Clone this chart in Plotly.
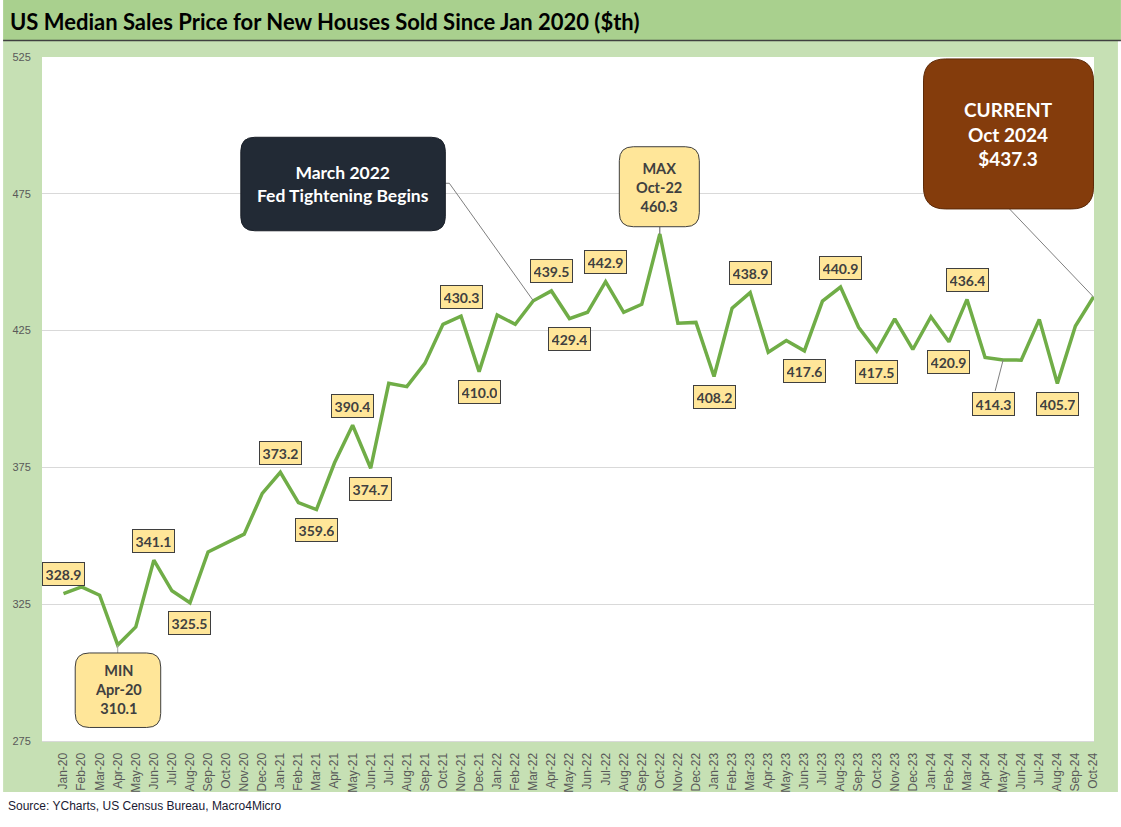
import plotly.graph_objects as go

months = [
    "Jan-20", "Feb-20", "Mar-20", "Apr-20", "May-20", "Jun-20", "Jul-20", "Aug-20", "Sep-20", "Oct-20", "Nov-20", "Dec-20",
    "Jan-21", "Feb-21", "Mar-21", "Apr-21", "May-21", "Jun-21", "Jul-21", "Aug-21", "Sep-21", "Oct-21", "Nov-21", "Dec-21",
    "Jan-22", "Feb-22", "Mar-22", "Apr-22", "May-22", "Jun-22", "Jul-22", "Aug-22", "Sep-22", "Oct-22", "Nov-22", "Dec-22",
    "Jan-23", "Feb-23", "Mar-23", "Apr-23", "May-23", "Jun-23", "Jul-23", "Aug-23", "Sep-23", "Oct-23", "Nov-23", "Dec-23",
    "Jan-24", "Feb-24", "Mar-24", "Apr-24", "May-24", "Jun-24", "Jul-24", "Aug-24", "Sep-24", "Oct-24",
]
prices = [
    328.9, 331.3, 328.3, 310.1, 316.7, 341.1, 329.9, 325.5, 344.1, 347.2, 350.6, 365.5,
    373.2, 362.1, 359.6, 376.7, 390.4, 374.7, 405.7, 404.5, 413.0, 427.3, 430.3, 410.0,
    430.7, 427.3, 435.9, 439.5, 429.4, 431.7, 442.9, 431.7, 434.6, 460.3, 427.7, 428.0,
    408.2, 433.2, 438.9, 417.1, 421.4, 417.6, 435.8, 440.9, 426.2, 417.5, 429.3, 418.1,
    430.1, 420.9, 436.4, 415.2, 414.3, 414.2, 429.1, 405.7, 426.7, 437.3,
]
labels_above = ["Jan-20", "Jun-20", "Jan-21", "May-21", "Nov-21", "Apr-22", "Jul-22", "Mar-23", "Aug-23", "Mar-24"]
labels_below = ["Aug-20", "Mar-21", "Jun-21", "Dec-21", "May-22", "Jan-23", "Jun-23", "Oct-23", "Feb-24", "Aug-24"]
label_leader = ["May-24"]
y_ticks = [275, 325, 375, 425, 475, 525]

TITLE = "US Median Sales Price for New Houses Sold Since Jan 2020 ($th)"
SOURCE = "Source: YCharts, US Census Bureau, Macro4Micro"

# colours
LINE_GREEN = "#70AD47"
BAR_GREEN = "#A9D08E"
AREA_GREEN = "#C6E0B4"
LABEL_FILL = "#FFE699"
LABEL_TEXT = "#404040"
DARK_BOX = "#222A35"
BROWN_BOX = "#843C0C"

W, H = 1121, 827
L, R, T, B = 39, 27, 57, 86
PW, PH = W - L - R, H - T - B


def px2x(px):
    return (px - L) / PW


def py2y(py):
    return (H - B - py) / PH


val = dict(zip(months, prices))

fig = go.Figure()
fig.add_trace(go.Scatter(
    x=months, y=prices, mode="lines",
    line=dict(color=LINE_GREEN, width=3.5),
    hoverinfo="x+y", showlegend=False,
))

shapes = []
# background panels (whole figure, in paper coords)
shapes.append(dict(type="rect", xref="paper", yref="paper", layer="below",
                   x0=px2x(0), x1=px2x(1118), y0=py2y(792), y1=py2y(41),
                   fillcolor=AREA_GREEN, line=dict(width=0)))
shapes.append(dict(type="rect", xref="paper", yref="paper", layer="below",
                   x0=px2x(0), x1=px2x(W), y0=py2y(41), y1=py2y(0),
                   fillcolor=BAR_GREEN, line=dict(width=0)))
shapes.append(dict(type="line", xref="paper", yref="paper", layer="below",
                   x0=px2x(0), x1=px2x(W), y0=py2y(40.5), y1=py2y(40.5),
                   line=dict(color="#404040", width=1.5)))
shapes.append(dict(type="rect", xref="paper", yref="paper", layer="below",
                   x0=0, x1=1, y0=0, y1=1,
                   fillcolor="white", line=dict(width=0)))


def rrect(x0, y0, x1, y1, r):
    return (f"M {x0 + r},{y0} L {x1 - r},{y0} Q {x1},{y0} {x1},{y0 + r} "
            f"L {x1},{y1 - r} Q {x1},{y1} {x1 - r},{y1} L {x0 + r},{y1} "
            f"Q {x0},{y1} {x0},{y1 - r} L {x0},{y0 + r} Q {x0},{y0} {x0 + r},{y0} Z")


def pix_shape(month, path, fill=None, line_color="#404040", width=1):
    d = dict(type="path", xref="x", yref="y", xsizemode="pixel", ysizemode="pixel",
             xanchor=month, yanchor=val[month], path=path,
             line=dict(color=line_color, width=width))
    if fill:
        d["fillcolor"] = fill
    return d


# leaders
i_min = prices.index(min(prices))
i_max = prices.index(max(prices))
m_min, m_max = months[i_min], months[i_max]
m_fed = "Mar-22"
m_cur = months[-1]

shapes.append(pix_shape(m_min, "M 0,0 L 0,-8", line_color="#A6A6A6"))
shapes.append(pix_shape(m_max, "M 0,0 L 0,7", line_color="#595959"))
shapes.append(pix_shape(m_fed, "M 0,0 L -84,117.5 L -88,117.5", line_color="#7F7F7F"))
shapes.append(pix_shape(m_cur, "M 0,0 L -84,88", line_color="#7F7F7F"))
shapes.append(pix_shape("May-24", "M 0,0 L -8,-31", line_color="#7F7F7F"))

# boxes
shapes.append(pix_shape(m_min, rrect(-42.5, -82.5, 43, -8, 14), fill=LABEL_FILL, line_color="#3F3F3F"))
shapes.append(pix_shape(m_max, rrect(-40.5, 7.3, 39.5, 87.3, 14), fill=LABEL_FILL, line_color="#3F3F3F"))
shapes.append(pix_shape(m_fed, rrect(-292.5, 70, -88, 163.5, 14), fill=DARK_BOX, line_color="#1A1F28"))
shapes.append(pix_shape(m_cur, rrect(-170, 88, 0, 238, 22), fill=BROWN_BOX, line_color="#5C2A08"))

annotations = []
LBL_FONT = dict(family="Lato, Calibri, sans-serif", size=14, color=LABEL_TEXT)


def value_label(month, dy, dx=0):
    annotations.append(dict(
        x=month, y=val[month], xref="x", yref="y", showarrow=False,
        text=f"<b>{val[month]:.1f}</b>", font=LBL_FONT,
        xshift=dx, yshift=dy, width=35, height=16, borderpad=3,
        bgcolor=LABEL_FILL, bordercolor="#3F3F3F", borderwidth=1,
    ))


for m in labels_above:
    value_label(m, 19.5)
for m in labels_below:
    value_label(m, -20.5)
for m in label_leader:
    value_label(m, -44, -10)

BOX_FONT = "Lato, Calibri, sans-serif"
annotations.append(dict(
    x=m_min, y=val[m_min], xref="x", yref="y", showarrow=False,
    text=f"<b>MIN</b><br><b>{m_min}</b><br><b>{val[m_min]:.1f}</b>",
    font=dict(family=BOX_FONT, size=14.5, color=LABEL_TEXT), yshift=-45, xshift=0.5,
))
annotations.append(dict(
    x=m_max, y=val[m_max], xref="x", yref="y", showarrow=False,
    text=f"<b>MAX</b><br><b>{m_max}</b><br><b>{val[m_max]:.1f}</b>",
    font=dict(family=BOX_FONT, size=14.5, color=LABEL_TEXT), yshift=47, xshift=-0.5,
))
annotations.append(dict(
    x=m_fed, y=val[m_fed], xref="x", yref="y", showarrow=False,
    text="<b>March 2022</b><br><b>Fed Tightening Begins</b>",
    font=dict(family=BOX_FONT, size=17.5, color="white"), yshift=117, xshift=-190,
))
annotations.append(dict(
    x=m_cur, y=val[m_cur], xref="x", yref="y", showarrow=False,
    text=f"<b>CURRENT</b><br><b>Oct 2024</b><br><b>${val[m_cur]:.1f}</b>",
    font=dict(family=BOX_FONT, size=19, color="white"), yshift=163, xshift=-85,
))

# title and source
annotations.append(dict(
    x=px2x(5), y=py2y(21), xref="paper", yref="paper", xanchor="left", yanchor="middle",
    showarrow=False, text=f"<b>{TITLE}</b>",
    font=dict(family=BOX_FONT, size=22, color="black"),
))
annotations.append(dict(
    x=px2x(3), y=py2y(806), xref="paper", yref="paper", xanchor="left", yanchor="middle",
    showarrow=False, text=SOURCE,
    font=dict(family="Liberation Sans, Arial, sans-serif", size=12, color="#1A1A33"),
))

fig.update_layout(
    width=W, height=H, autosize=False,
    margin=dict(l=L, r=R, t=T, b=B, pad=0),
    paper_bgcolor="white", plot_bgcolor="white",
    shapes=shapes, annotations=annotations,
    showlegend=False,
    xaxis=dict(
        type="category", categoryorder="array", categoryarray=months,
        tickangle=-90, tickfont=dict(family="Liberation Sans, Arial, sans-serif", size=12, color="#595959"),
        showgrid=False, showline=True, linecolor="#D9D9D9", linewidth=1,
        ticks="outside", ticklen=6, tickcolor="rgba(0,0,0,0)", zeroline=False,
    ),
    yaxis=dict(
        range=[275, 525], tickvals=y_ticks, ticktext=[str(v) for v in y_ticks],
        tickfont=dict(family="Liberation Sans, Arial, sans-serif", size=11, color="#595959"),
        showgrid=True, gridcolor="#D9D9D9", gridwidth=1, zeroline=False,
        ticks="outside", ticklen=8, tickcolor="rgba(0,0,0,0)",
    ),
)

fig.write_html(
    "out.html",
    config={"displayModeBar": False},
    post_script="document.body.style.margin='0';document.body.style.overflow='hidden';",
)
